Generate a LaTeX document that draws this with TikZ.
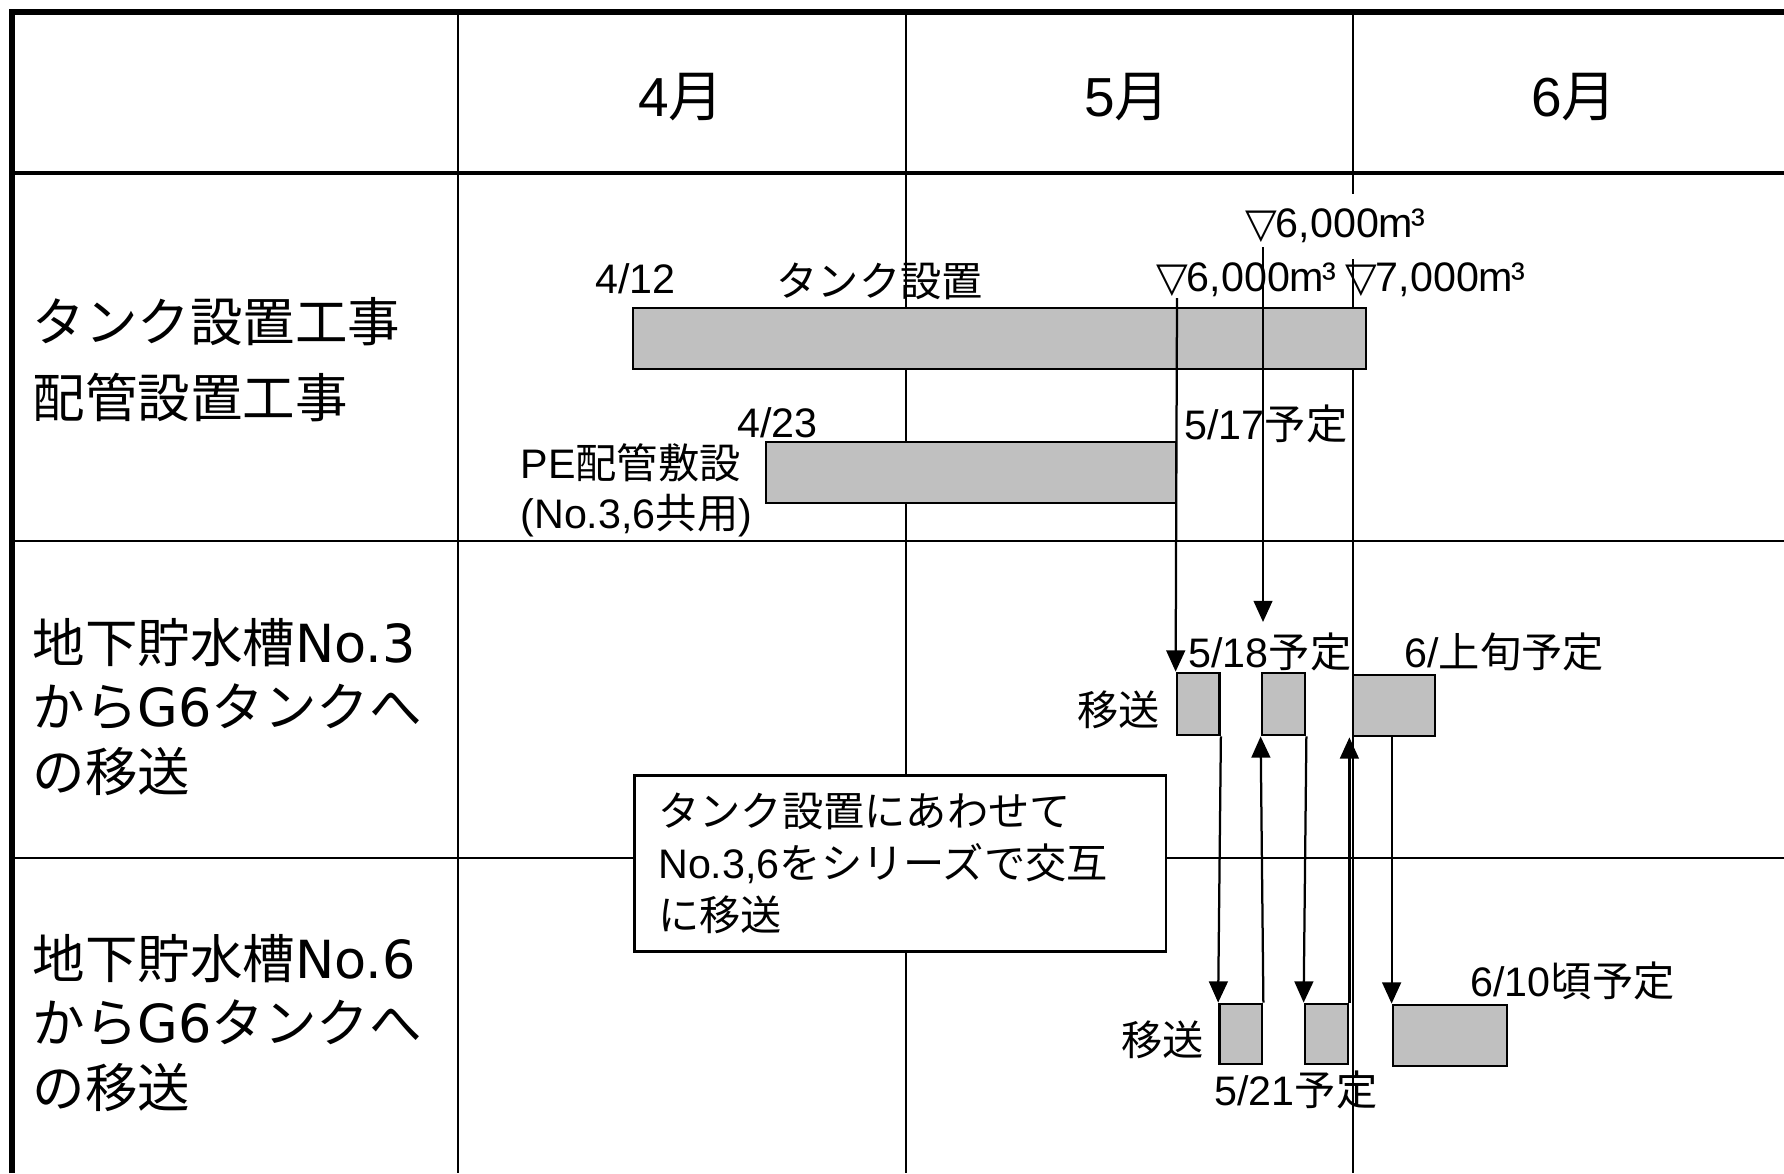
\documentclass[tikz,border=0pt]{standalone}
\usepackage{fontspec}
\setmainfont{Liberation Sans}
\newfontfamily\jpfont{Noto Sans CJK JP}
\newfontfamily\dvfont{DejaVu Sans}
\newcommand\J[1]{{\jpfont #1}}
\newcommand\TRI{{\dvfont ▽}\kern-0.6pt}
\newcommand\CUB{\kern-0.8pt³}
\usetikzlibrary{arrows.meta,fit}
\definecolor{barg}{HTML}{C0C0C0}
\begin{document}
\begin{tikzpicture}[x=0.4pt,y=-0.4pt,
  gridline/.style={line width=0.8pt},
  border/.style={line width=2.3pt},
  bar/.style={draw, fill=barg, line width=1.1pt, inner sep=0pt},
  lbl/.style={inner sep=0pt, anchor=west, font=\fontsize{16.5pt}{20pt}\selectfont},
  head/.style={inner sep=0pt, font=\fontsize{22pt}{26pt}\selectfont},
  leftcol/.style={inner sep=0pt, anchor=west, align=left},
  arr/.style={line width=0.9pt, -{Triangle[length=8.5pt,width=7.5pt]}},
  conn/.style={line width=0.9pt}]
\useasboundingbox (0,0) rectangle (1784,1173);
% grid
\draw[gridline] (458,12) -- (458,1173);
\draw[gridline] (905.5,12) -- (905.5,1173);
\draw[gridline] (1353,12) -- (1353,1173);
\draw[line width=1.3pt] (12,173) -- (1784,173);
\draw[gridline] (12,540.5) -- (1784,540.5);
\draw[gridline] (12,858) -- (1784,858);
\draw[border] (12,1173) -- (12,12) -- (1784,12);
% header
\node[head] (m4) at (681,97) {4\J{月}};
\node[head] (m5) at (1127,97) {5\J{月}};
\node[head] (m6) at (1574,97) {6\J{月}};
% left column
\node[leftcol, font=\fontsize{21pt}{30.4pt}\selectfont] (r1) at (32,360) {\J{タンク設置工事}\\\J{配管設置工事}};
\node[leftcol, font=\fontsize{21pt}{25.8pt}\selectfont] (r2) at (32,707) {\J{地下貯水槽}{\dvfont No.3}\\\J{から}{\dvfont G6}\J{タンクへ}\\\J{の移送}};
\node[leftcol, font=\fontsize{21pt}{25.8pt}\selectfont] (r3) at (32,1023) {\J{地下貯水槽}{\dvfont No.6}\\\J{から}{\dvfont G6}\J{タンクへ}\\\J{の移送}};
% bars
\node[bar, fit={(633,308) (1366,369)}] (tank) {};
\node[bar, fit={(766,442) (1176,503)}] (pe) {};
\node[bar, fit={(1177,673) (1219.5,735)}] (a) {};
\node[bar, fit={(1262,673) (1305,735)}] (b) {};
\node[bar, fit={(1353,675) (1435,736)}] (c) {};
\node[bar, fit={(1219.5,1004) (1262,1064)}] (d) {};
\node[bar, fit={(1305,1004) (1348,1064)}] (e) {};
\node[bar, fit={(1393,1005) (1507,1066)}] (f) {};
% labels
\node[lbl] (l412) at (595,279) {4/12};
\node[lbl] (ltank) at (776,281) {\J{タンク設置}};
\node[lbl] (lv6a) at (1156,280) {\TRI6,000m\CUB};
\node[lbl] (lv7) at (1345,280) {\TRI7,000m\CUB};
\node[lbl, fill=white, minimum height=26pt] (lv6b) at (1245,226) {\TRI6,000m\CUB};
\node[lbl] (l423) at (737,423) {4/23};
\node[lbl] (lpe1) at (520,463) {PE\J{配管敷設}};
\node[lbl] (lpe2) at (520,516) {(No.3,6\J{共用})};
\node[lbl] (l517) at (1184,424) {5/17\J{予定}};
\node[lbl] (l518) at (1188,652) {5/18\J{予定}};
\node[lbl] (l6j) at (1404,652) {6/\J{上旬予定}};
\node[lbl, anchor=east] (is1) at (1160,710) {\J{移送}};
\node[lbl, anchor=east] (is2) at (1204,1040) {\J{移送}};
\node[lbl] (l521) at (1214,1090) {5/21\J{予定}};
\node[lbl] (l610) at (1470,981) {6/10\J{頃予定}};
% note
\node[draw, fill=white, line width=1pt, anchor=north west, inner xsep=9.6pt,
  minimum height=70.4pt, text width=193.4pt, align=left,
  font=\fontsize{16.5pt}{20.8pt}\selectfont] (note) at (633,774)
  {\J{タンク設置にあわせて}\\No.3,6\J{をシリーズで交互}\\\J{に移送}};
% connectors
\coordinate (v1) at (1177,298);
\coordinate (v2) at (1263,247);
\coordinate (v2e) at (1263,622);
\draw[arr] (v1) -- (a.north west);
\draw[arr] (v2) -- (v2e);
\draw[arr] (a.south east) -- (d.north west);
\draw[arr] (d.north east) -- (b.south west);
\draw[arr] (b.south east) -- (e.north west);
\draw[arr] (e.north east) -- (e.north east |- c.south);
\draw[arr] (f.north west |- c.south) -- (f.north west);
\end{tikzpicture}
\end{document}
